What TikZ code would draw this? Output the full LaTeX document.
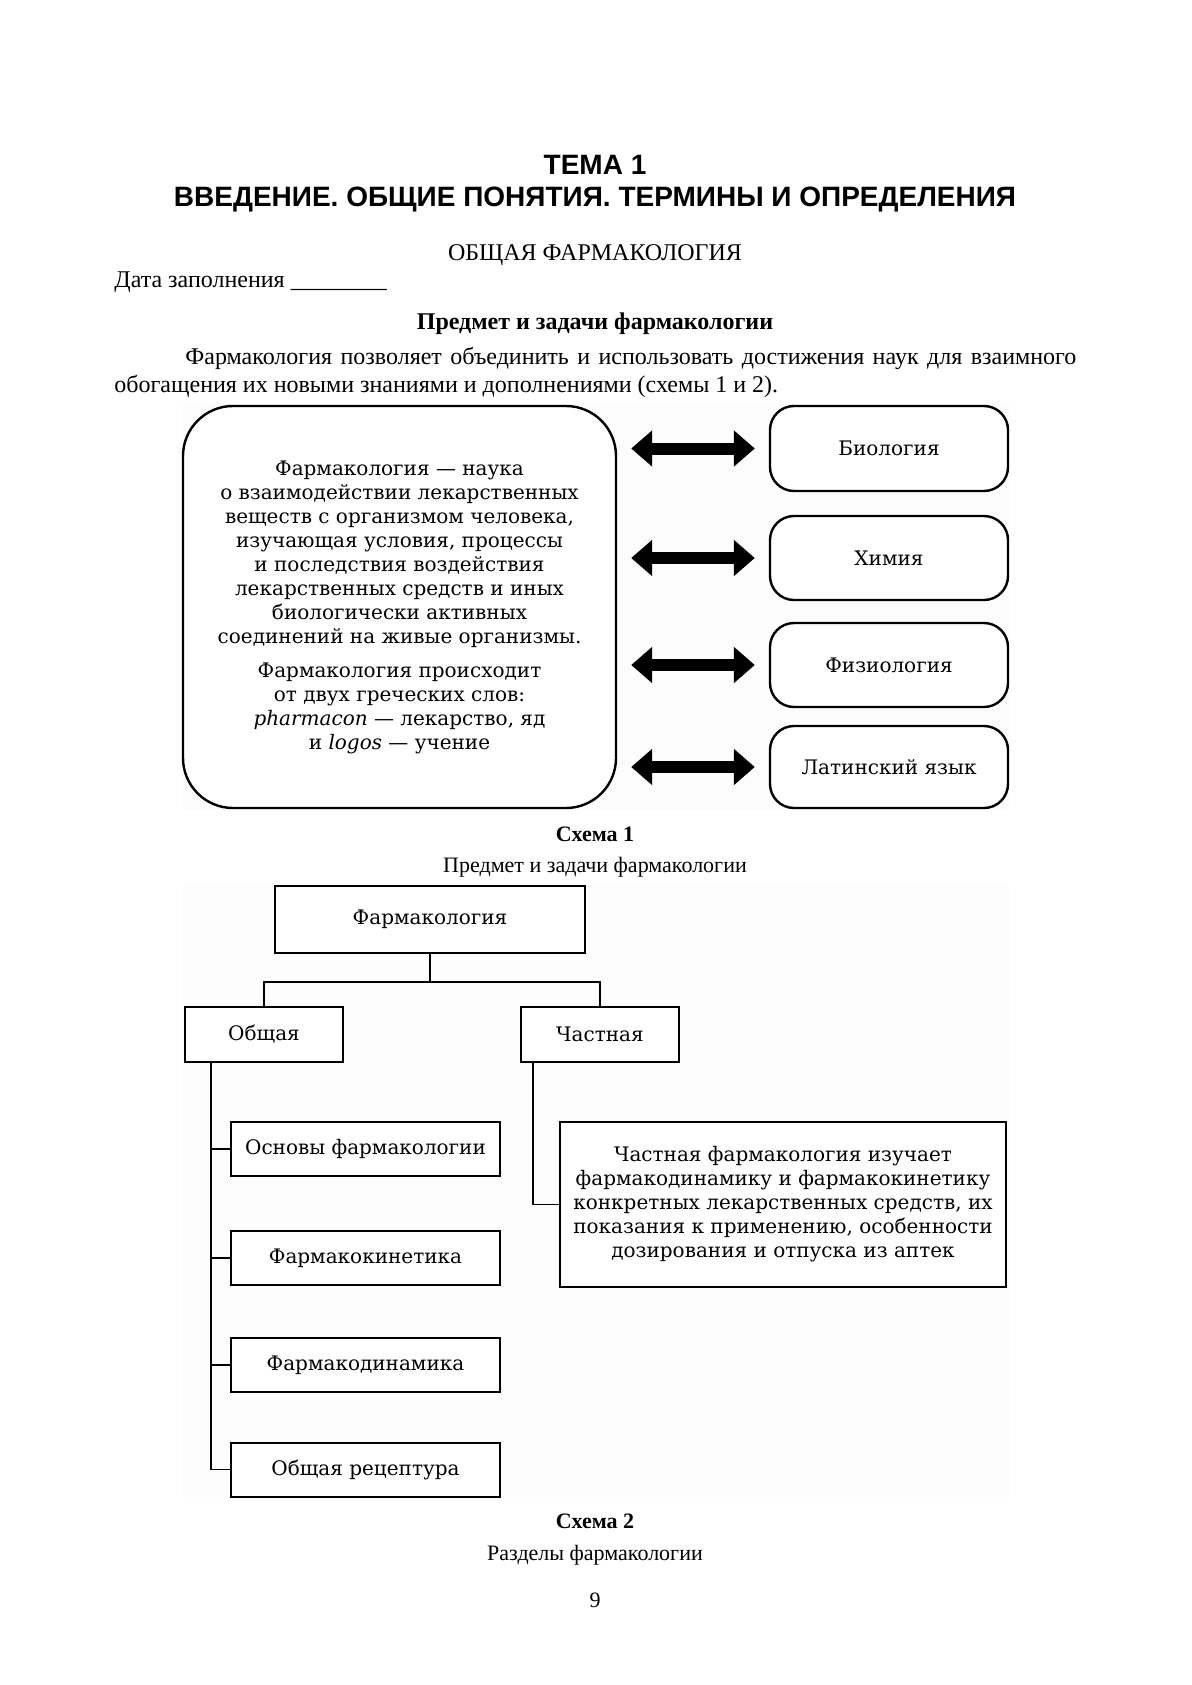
\documentclass[tikz,border=0pt]{standalone}
\usepackage{fontspec}
\setmainfont{Liberation Serif}
\newfontfamily\titlefont{Liberation Sans}
\newfontfamily\boxfont{DejaVu Serif}
\usetikzlibrary{arrows.meta}

\begin{document}
\begin{tikzpicture}[x=0.5pt,y=-0.5pt,
  ttl/.style={font=\titlefont\bfseries\fontsize{14}{16}\selectfont, anchor=base, inner sep=0pt},
  body/.style={font=\fontsize{12}{14}\selectfont, inner sep=0pt},
  capt/.style={font=\fontsize{11}{13}\selectfont, inner sep=0pt, anchor=base},
  captb/.style={font=\bfseries\fontsize{11}{13}\selectfont, inner sep=0pt, anchor=base},
  btxt/.style={font=\boxfont\fontsize{10}{12}\selectfont, align=center},
  rbox/.style={draw, line width=1.2pt, rounded corners=12pt, minimum width=119pt, btxt, fill=white},
  bigbox/.style={draw, line width=1.2pt, rounded corners=25pt, minimum width=216.5pt, minimum height=201pt, btxt, fill=white},
  sbox/.style={draw, line width=1pt, btxt, inner sep=0pt, fill=white},
  conn/.style={line width=0.8pt},
  dbl/.style={line width=6pt, {Triangle[length=10.5pt,width=17.5pt]}-{Triangle[length=10.5pt,width=17.5pt]}, shorten <=7pt, shorten >=7pt}
]
\useasboundingbox (0,0) rectangle (1192,1685);
\fill[white] (0,0) rectangle (1192,1685);
% faint scheme backgrounds
\fill[black!1] (183,404) rectangle (1009,810);
\fill[black!1] (183,885) rectangle (1009,1497);

% header
\node[ttl] (tema) at (595,175) {ТЕМА 1};
\node[ttl] (vved) at (595,207) {ВВЕДЕНИЕ. ОБЩИЕ ПОНЯТИЯ. ТЕРМИНЫ И ОПРЕДЕЛЕНИЯ};
\node[body, anchor=base] (obsh0) at (595,261) {ОБЩАЯ ФАРМАКОЛОГИЯ};
\node[body, anchor=base west] (data) at (114,287) {Дата заполнения \_\_\_\_\_\_\_\_};
\node[body, anchor=base, font=\bfseries\fontsize{12}{14}\selectfont] (pred) at (595,329) {Предмет и задачи фармакологии};
\node[body, anchor=base west] (par1) at (185,364) {\makebox[445.5pt][s]{Фармакология позволяет объединить и использовать достижения наук для взаимного}};
\node[body, anchor=base west] (par2) at (114,392) {обогащения их новыми знаниями и дополнениями (схемы 1 и 2).};

% scheme 1
\node[bigbox] (big) at (399.5,607) {Фармакология — наука\\
о взаимодействии лекарственных\\
веществ с организмом человека,\\
изучающая условия, процессы\\
и последствия воздействия\\
лекарственных средств и иных\\
биологически активных\\
соединений на живые организмы.\\[5pt]
Фармакология происходит\\
от двух греческих слов:\\
\textit{pharmacon} — лекарство, яд\\
и \textit{logos} — учение};

\node[rbox, minimum height=42.5pt] (bio) at (889,448.5) {Биология};
\node[rbox, minimum height=42pt] (him) at (889,558) {Химия};
\node[rbox, minimum height=42pt] (fiz) at (889,665) {Физиология};
\node[rbox, minimum height=41pt] (lat) at (889,767) {Латинский язык};

\draw[dbl] (big.east |- bio.west) -- (bio.west);
\draw[dbl] (big.east |- him.west) -- (him.west);
\draw[dbl] (big.east |- fiz.west) -- (fiz.west);
\draw[dbl] (big.east |- lat.west) -- (lat.west);

\node[captb] (sh1) at (595,841) {Схема 1};
\node[capt] (sh1t) at (595,872) {Предмет и задачи фармакологии};

% scheme 2
\node[sbox, minimum width=155pt, minimum height=33.5pt] (farm) at (430,919.5) {Фармакология};
\node[sbox, minimum width=79pt, minimum height=27.5pt] (ob) at (264,1034.5) {Общая};
\node[sbox, minimum width=79pt, minimum height=27.5pt] (ch) at (600,1034.5) {Частная};
\coordinate (jn) at (430,982);
\draw[conn] (farm.south) -- (jn);
\draw[conn] (ob.north) |- (jn) -| (ch.north);

\node[sbox, minimum width=134.5pt, minimum height=27pt] (osn) at (365.5,1149) {Основы фармакологии};
\node[sbox, minimum width=134.5pt, minimum height=27pt] (fk) at (365.5,1258) {Фармакокинетика};
\node[sbox, minimum width=134.5pt, minimum height=27pt] (fd) at (365.5,1365) {Фармакодинамика};
\node[sbox, minimum width=134.5pt, minimum height=27pt] (rec) at (365.5,1469.5) {Общая рецептура};

\draw[conn] ([xshift=13.5pt]ob.south west) |- (rec.west);
\draw[conn] ([xshift=13.5pt]ob.south west |- osn.west) -- (osn.west);
\draw[conn] ([xshift=13.5pt]ob.south west |- fk.west) -- (fk.west);
\draw[conn] ([xshift=13.5pt]ob.south west |- fd.west) -- (fd.west);

\node[sbox, minimum width=223pt, minimum height=82.5pt] (tb) at (783,1204.5) {Частная фармакология изучает\\
фармакодинамику и фармакокинетику\\
конкретных лекарственных средств, их\\
показания к применению, особенности\\
дозирования и отпуска из аптек};
\draw[conn] ([xshift=6.5pt]ch.south west) |- (tb.west);

\node[captb] (sh2) at (595,1528) {Схема 2};
\node[capt] (sh2t) at (595,1560) {Разделы фармакологии};
\node[capt] (pg) at (595,1607) {9};
\end{tikzpicture}
\end{document}
